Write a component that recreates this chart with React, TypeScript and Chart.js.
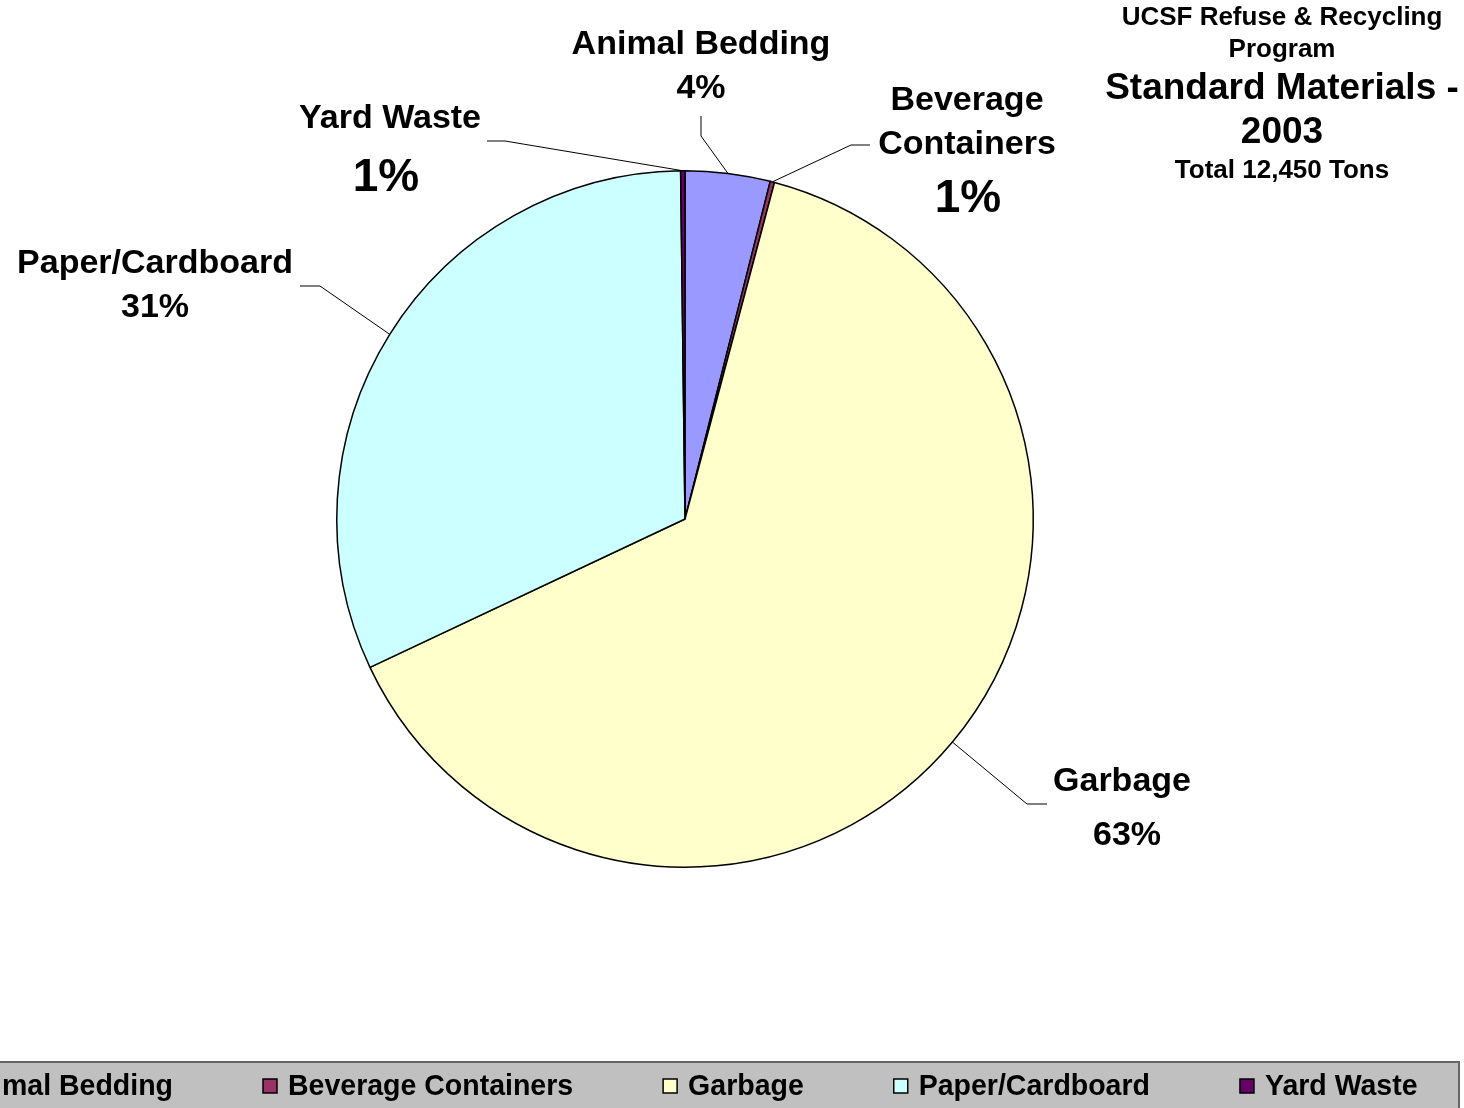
import React, { useEffect, useRef } from "react";
import { Chart, registerables } from "chart.js";
Chart.register(...registerables);

const categories = ["Animal Bedding", "Beverage Containers", "Garbage", "Paper/Cardboard", "Yard Waste"];
const tons = [490, 25, 7950, 3960, 25];
const percentLabels = ["4%", "1%", "63%", "31%", "1%"];
const colors = ["#9999FF", "#993366", "#FFFFCC", "#CCFFFF", "#660066"];
const titleLines = ["UCSF Refuse & Recycling", "Program", "Standard Materials -", "2003", "Total 12,450 Tons"];

const FONT = '"Liberation Sans", Arial, sans-serif';

const labelLayout = [
  { wrap: false, x: 701, nameY: [45], pctX: 701, pctY: 89, pctSize: 34, elbow: [701, 136], end: [701, 116] },
  { wrap: true, x: 967, nameY: [101, 145], pctX: 968, pctY: 199, pctSize: 46, elbow: [851, 145], end: [870, 145] },
  { wrap: false, x: 1122, nameY: [782], pctX: 1127, pctY: 836, pctSize: 34, elbow: [1027, 804], end: [1047, 804] },
  { wrap: false, x: 155, nameY: [264], pctX: 155, pctY: 308, pctSize: 34, elbow: [320, 286], end: [300, 286] },
  { wrap: false, x: 390, nameY: [119], pctX: 386, pctY: 178, pctSize: 46, elbow: [505, 141], end: [487, 141] },
];

const titleLayout = [
  { y: 18, size: 26 },
  { y: 50, size: 26 },
  { y: 89, size: 37 },
  { y: 133, size: 37 },
  { y: 171, size: 26 },
];

const overlayPlugin = {
  id: "overlay",
  afterDraw(chart: any) {
    const ctx = chart.ctx as CanvasRenderingContext2D;
    const meta = chart.getDatasetMeta(0);
    ctx.save();
    meta.data.forEach((arc: any, i: number) => {
      const p = arc.getProps(["x", "y", "startAngle", "endAngle", "outerRadius"], true);
      const mid = (p.startAngle + p.endAngle) / 2;
      const ax = p.x + Math.cos(mid) * p.outerRadius;
      const ay = p.y + Math.sin(mid) * p.outerRadius;
      const L = labelLayout[i];
      ctx.strokeStyle = "#000";
      ctx.lineWidth = 1;
      ctx.beginPath();
      ctx.moveTo(ax, ay);
      ctx.lineTo(L.elbow[0], L.elbow[1]);
      ctx.lineTo(L.end[0], L.end[1]);
      ctx.stroke();
      ctx.fillStyle = "#000";
      ctx.textAlign = "center";
      ctx.textBaseline = "middle";
      ctx.font = `bold 34px ${FONT}`;
      const lines = L.wrap ? categories[i].split(" ") : [categories[i]];
      lines.forEach((t, k) => ctx.fillText(t, L.x, L.nameY[k]));
      ctx.font = `bold ${L.pctSize}px ${FONT}`;
      ctx.fillText(percentLabels[i], L.pctX, L.pctY);
    });
    titleLines.forEach((t, k) => {
      ctx.font = `bold ${titleLayout[k].size}px ${FONT}`;
      ctx.fillText(t, 1282, titleLayout[k].y);
    });
    const top = 1062;
    ctx.fillStyle = "#C0C0C0";
    ctx.fillRect(-200, top, 1659, 100);
    ctx.strokeStyle = "#666";
    ctx.lineWidth = 2;
    ctx.beginPath();
    ctx.moveTo(-200, top);
    ctx.lineTo(1459, top);
    ctx.lineTo(1459, 1120);
    ctx.stroke();
    const fs = 30;
    const sx = 0.95;
    ctx.font = `bold ${fs}px ${FONT}`;
    ctx.textAlign = "left";
    const widths = categories.map((c) => ctx.measureText(c).width * sx);
    let x = 263 - 90 - widths[0] - 25;
    const cy = 1086;
    categories.forEach((c, i) => {
      ctx.fillStyle = colors[i];
      ctx.fillRect(x, cy - 7, 14, 14);
      ctx.strokeStyle = "#000";
      ctx.lineWidth = 1.5;
      ctx.strokeRect(x, cy - 7, 14, 14);
      ctx.save();
      ctx.translate(x + 25, cy);
      ctx.scale(sx, 1);
      ctx.fillStyle = "#000";
      ctx.textBaseline = "middle";
      ctx.fillText(c, 0, 1);
      ctx.restore();
      x += 25 + widths[i] + 90;
    });
    ctx.restore();
  },
};

export default function App() {
  const ref = useRef<HTMLCanvasElement | null>(null);
  useEffect(() => {
    document.body.style.margin = "0";
    document.body.style.background = "#fff";
    const canvas = ref.current!;
    const chart = new Chart(canvas, {
      type: "pie",
      data: {
        labels: categories,
        datasets: [
          {
            data: tons,
            backgroundColor: colors,
            borderColor: "#000",
            borderWidth: 1.5,
          },
        ],
      },
      options: {
        responsive: false,
        animation: false,
        layout: { padding: { left: 336, right: 1464 - 1034, top: 170, bottom: 1108 - 868 } },
        plugins: { legend: { display: false }, tooltip: { enabled: false }, title: { display: false } },
      },
      plugins: [overlayPlugin],
    } as any);
    return () => chart.destroy();
  }, []);
  return <canvas ref={ref} width={1464} height={1108} style={{ display: "block", width: 1464, height: 1108 }} />;
}
